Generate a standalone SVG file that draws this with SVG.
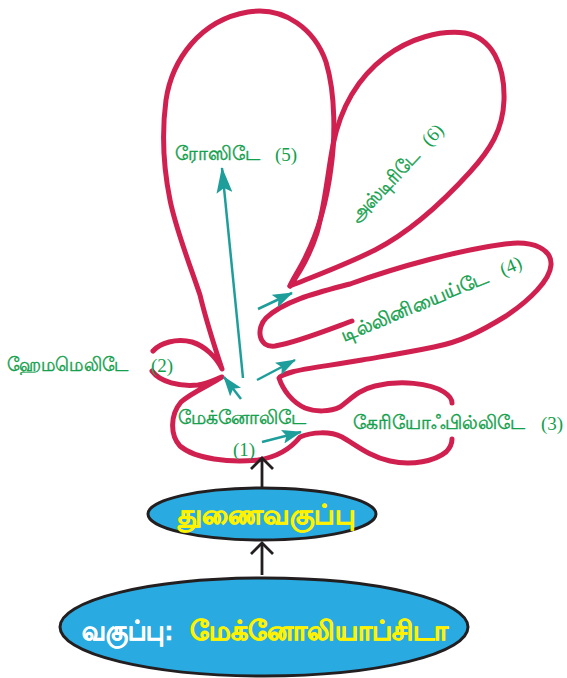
<svg xmlns="http://www.w3.org/2000/svg" width="567" height="678" viewBox="0 0 567 678">
  <style>
    .petal { fill: none; stroke: #D0204F; stroke-width: 5; stroke-linecap: round; stroke-linejoin: round; }
    .teal { fill: none; stroke: #1E9E9B; stroke-width: 2.5; }
    .blk { fill: none; stroke: #231F20; stroke-width: 2.8; }
    .lbl { font-family: "Liberation Serif", serif; font-size: 19px; fill: #12A04C; }
    .ta { stroke: #12A04C; stroke-width: 0.45; }
    .node { fill: #29ABE2; stroke: #231F20; stroke-width: 3; }
    .ntxt { font-family: "Liberation Sans", sans-serif; font-weight: bold; font-size: 27px; stroke-width: 0.7; }
    .yel { fill: #FFF200; stroke: #FFF200; }
    .wht { fill: #FFFFFF; stroke: #FFFFFF; }
  </style>
  <defs>
    <marker id="tealBig" viewBox="0 0 26 16" refX="25" refY="8" markerWidth="26" markerHeight="16" markerUnits="userSpaceOnUse" orient="auto">
      <path d="M0,0 L26,8 L0,16 L5,8 Z" fill="#1E9E9B"/>
    </marker>
    <marker id="tealSmall" viewBox="0 0 20 14" refX="19" refY="7" markerWidth="20" markerHeight="14" markerUnits="userSpaceOnUse" orient="auto">
      <path d="M0,0 L20,7 L0,14 L4,7 Z" fill="#1E9E9B"/>
    </marker>
    <marker id="chevron" viewBox="0 0 14 24" refX="12" refY="12" markerWidth="14" markerHeight="24" markerUnits="userSpaceOnUse" orient="auto">
      <path d="M1,1 L12,12 L1,23" fill="none" stroke="#231F20" stroke-width="2.8"/>
    </marker>
  </defs>

  <rect width="567" height="678" fill="#ffffff"/>

  <!-- outline of the subclass lobes -->
  <g id="outline">
    <!-- Hamamelidae upper arm, Rosidae lobe, down to the spike -->
    <path class="petal" d="M153,351 C160,343 176,338 192,342 C205,346 216,357 222,369 C214,345 206,320 200,295 C190,265 176,230 170,200 C163,165 162,130 166,100 C172,60 200,20 248,12 C285,6 315,30 326,62 C336,95 335,140 331,168 C327,200 318,232 305,258 C298,272 292,280 290,286"/>
    <!-- Asteridae lobe -->
    <path class="petal" d="M290,286 C300,272 310,255 317,233 C325,205 328,170 333,145 C340,110 355,80 385,57 C410,38 440,30 465,33 C492,38 505,65 504,100 C503,130 490,150 470,172 C440,205 410,232 375,250 C345,265 315,276 290,286"/>
    <!-- Dilleniidae lobe, Magnoliidae upper right, Caryophyllidae upper arm -->
    <path class="petal" d="M352,321 C325,331 295,343 275,346 C258,348 256,328 266,318 C285,300 320,292 350,284 C400,266 460,250 505,244 C535,240 552,250 551,265 C550,280 530,300 506,316 C480,332 460,342 434,347 C405,353 385,356 362,360 C335,365 305,368 292,372 C285,374 280,376 279,378 C283,390 292,402 305,408 C315,412 330,412 340,407 C350,400 358,390 375,386 C400,380 430,383 444,392 C450,396 452,400 452,403"/>
    <!-- Hamamelidae lower arm, Magnoliidae base, Caryophyllidae lower arm -->
    <path class="petal" d="M152,371 C160,382 180,387 198,385 C210,383 218,378 222,377 C212,384 192,392 181,402 C170,415 170,435 180,446 C195,459 230,463 258,460 C278,457 292,447 300,437 C312,432 330,431 342,437 C355,444 368,456 390,461 C412,466 435,461 446,452 C450,448 452,443 452,439"/>
  </g>

  <!-- connectors -->
  <g id="connectors">
    <path class="teal" d="M243,378 L222,168" marker-end="url(#tealBig)"/>
    <path class="teal" d="M241,399 L224,377" marker-end="url(#tealSmall)"/>
    <path class="teal" d="M258,309 L292,293" marker-end="url(#tealSmall)"/>
    <path class="teal" d="M257,380 L295,360" marker-end="url(#tealSmall)"/>
    <path class="teal" d="M262,442 L301,432" marker-end="url(#tealSmall)"/>
    <path class="blk" d="M262,575 L262,543" marker-end="url(#chevron)"/>
    <path class="blk" d="M262,488 L262,458" marker-end="url(#chevron)"/>
  </g>

  <g id="magnoliidae">
    <text class="lbl ta" x="178" y="424" textLength="128" lengthAdjust="spacingAndGlyphs">மேக்னோலிடே</text>
    <text class="lbl" x="233" y="456">(1)</text>
  </g>
  <g id="hamamelidae">
    <text class="lbl ta" x="7" y="371" textLength="121" lengthAdjust="spacingAndGlyphs">ஹேமமெலிடே</text>
    <text class="lbl" x="151" y="372">(2)</text>
  </g>
  <g id="caryophyllidae">
    <text class="lbl ta" x="353" y="429" textLength="172" lengthAdjust="spacingAndGlyphs">கேரியோஃபில்லிடே</text>
    <text class="lbl" x="541" y="430">(3)</text>
  </g>
  <g id="dilleniidae">
    <g transform="translate(344,342) rotate(-22.5)">
      <text class="lbl ta" x="0" y="0" textLength="158" lengthAdjust="spacingAndGlyphs">டில்லினியைய்டே</text>
      <text class="lbl" x="172" y="0">(4)</text>
    </g>
  </g>
  <g id="rosidae">
    <text class="lbl ta" x="175" y="160" textLength="85" lengthAdjust="spacingAndGlyphs">ரோஸிடே</text>
    <text class="lbl" x="275" y="161">(5)</text>
  </g>
  <g id="asteridae">
    <g transform="translate(358,224) rotate(-47)">
      <text class="lbl ta" x="0" y="0" textLength="92" lengthAdjust="spacingAndGlyphs">அஸ்டிரிடே</text>
      <text class="lbl" x="105" y="0">(6)</text>
    </g>
  </g>

  <g id="subclass">
    <ellipse class="node" cx="262" cy="514" rx="114" ry="26"/>
    <text class="ntxt yel" x="178" y="524" textLength="177" lengthAdjust="spacingAndGlyphs">துணைவகுப்பு</text>
  </g>
  <g id="class">
    <ellipse class="node" cx="264" cy="627" rx="204" ry="49"/>
    <text class="ntxt wht" x="82" y="640" textLength="91" lengthAdjust="spacingAndGlyphs">வகுப்பு:</text>
    <text class="ntxt yel" x="190" y="640" textLength="258" lengthAdjust="spacingAndGlyphs">மேக்னோலியாப்சிடா</text>
  </g>
</svg>
